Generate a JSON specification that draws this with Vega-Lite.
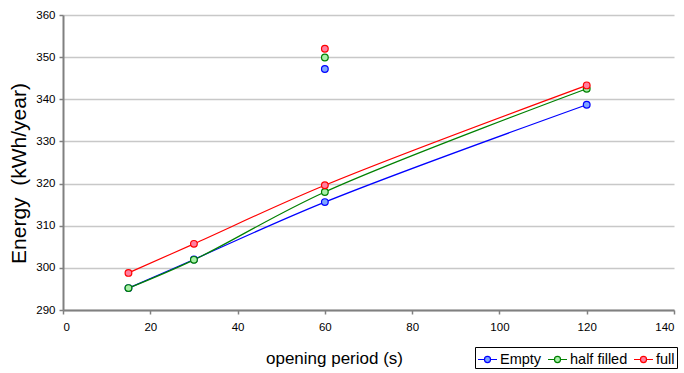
{
  "$schema": "https://vega.github.io/schema/vega-lite/v6.json",
  "width": 611,
  "height": 295,
  "autosize": "none",
  "padding": {"left": 63, "top": 15, "right": 10, "bottom": 63},
  "background": "white",
  "config": {
    "font": "Liberation Sans",
    "view": {"stroke": null},
    "axis": {"labelFont": "Liberation Sans", "titleFont": "Liberation Sans", "labelColor": "#000", "titleColor": "#000", "titleFontWeight": "normal", "domainColor": "#808080", "domainWidth": 2, "tickColor": "#808080", "tickWidth": 1.5, "tickSize": 4, "labelFontSize": 11.5}
  },
  "data": {"values": [
    {"t": 15, "series": "Empty", "e": 295.2, "g": "line"},
    {"t": 30, "series": "Empty", "e": 302.0, "g": "line"},
    {"t": 60, "series": "Empty", "e": 315.6, "g": "line"},
    {"t": 120, "series": "Empty", "e": 338.7, "g": "line"},
    {"t": 60, "series": "Empty", "e": 347.2, "g": "pt"},
    {"t": 15, "series": "half filled", "e": 295.2, "g": "line"},
    {"t": 30, "series": "half filled", "e": 301.9, "g": "line"},
    {"t": 60, "series": "half filled", "e": 318.0, "g": "line"},
    {"t": 120, "series": "half filled", "e": 342.5, "g": "line"},
    {"t": 60, "series": "half filled", "e": 349.9, "g": "pt"},
    {"t": 15, "series": "full", "e": 298.8, "g": "line"},
    {"t": 30, "series": "full", "e": 305.7, "g": "line"},
    {"t": 60, "series": "full", "e": 319.6, "g": "line"},
    {"t": 120, "series": "full", "e": 343.3, "g": "line"},
    {"t": 60, "series": "full", "e": 352.0, "g": "pt"}
  ]},
  "encoding": {
    "x": {"field": "t", "type": "quantitative", "scale": {"domain": [0, 140], "nice": false}, "axis": {"values": [0,20,40,60,80,100,120,140], "grid": false, "title": "opening period (s)", "titleFontSize": 17, "titleX": 271, "titleY": 48, "titleBaseline": "middle", "labelPadding": 7}},
    "y": {"field": "e", "type": "quantitative", "scale": {"domain": [290, 360], "nice": false, "zero": false}, "axis": {"values": [290,300,310,320,330,340,350,360], "grid": true, "gridColor": "#c8c8c8", "gridWidth": 1.5, "title": "Energy \u00a0(kWh/year)", "titleFontSize": 21, "titleY": 158, "titlePadding": 6, "labelPadding": 4}}
  },
  "layer": [
    {
      "transform": [{"filter": "datum.g == 'line'"}],
      "mark": {"type": "line", "interpolate": "catmull-rom", "strokeWidth": 1.2},
      "encoding": {
        "stroke": {"field": "series", "type": "nominal", "sort": ["Empty", "half filled", "full"], "scale": {"domain": ["Empty", "half filled", "full"], "range": ["#0000ff", "#008000", "#ff0000"]}, "legend": {"title": null, "orient": "none", "legendX": 412, "legendY": 332, "direction": "horizontal", "strokeColor": "#000", "padding": 2, "labelFontSize": 14.5, "labelFont": "Liberation Sans", "symbolType": "M-1,0H-0.32M0.32,0H1M0.32,0A0.32,0.32,0,1,1,-0.32,0A0.32,0.32,0,1,1,0.32,0Z", "symbolSize": 361, "symbolStrokeWidth": 1.2, "labelOffset": 2, "columnPadding": 3}}
      }
    },
    {
      "mark": {"type": "point", "filled": false, "size": 45, "strokeWidth": 1.2, "opacity": 1},
      "encoding": {
        "stroke": {"field": "series", "type": "nominal", "sort": ["Empty", "half filled", "full"], "scale": {"domain": ["Empty", "half filled", "full"], "range": ["#0000ff", "#008000", "#ff0000"]}},
        "fill": {"field": "series", "type": "nominal", "sort": ["Empty", "half filled", "full"], "scale": {"domain": ["Empty", "half filled", "full"], "range": ["#7fa6ff", "#a8f0a8", "#ff7fa0"]}, "legend": null}
      }
    }
  ]
}
